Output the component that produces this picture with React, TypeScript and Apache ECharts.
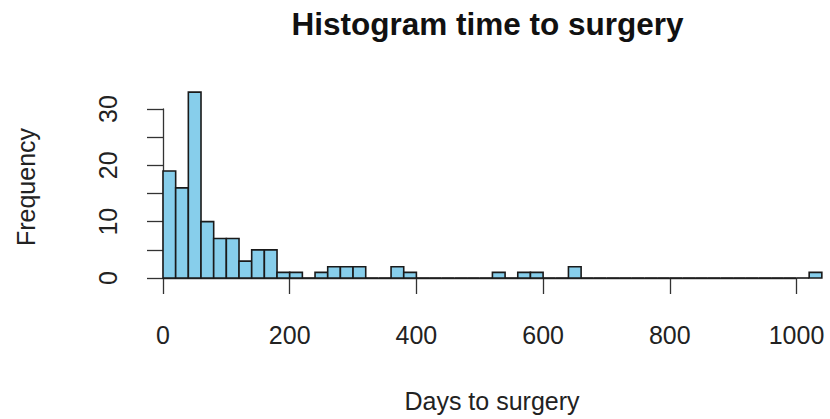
import React, { useEffect, useRef } from "react";
import * as echarts from "echarts";

const binWidth = 20;
const binStarts: number[] = [
  0, 20, 40, 60, 80, 100, 120, 140, 160, 180, 200, 220, 240, 260, 280, 300, 320, 340, 360, 380,
  400, 420, 440, 460, 480, 500, 520, 540, 560, 580, 600, 620, 640, 660, 680, 700, 720, 740, 760, 780,
  800, 820, 840, 860, 880, 900, 920, 940, 960, 980, 1000, 1020,
];
const counts: number[] = [
  19, 16, 33, 10, 7, 7, 3, 5, 5, 1, 1, 0, 1, 2, 2, 2, 0, 0, 2, 1,
  0, 0, 0, 0, 0, 0, 1, 0, 1, 1, 0, 0, 2, 0, 0, 0, 0, 0, 0, 0,
  0, 0, 0, 0, 0, 0, 0, 0, 0, 0, 0, 1,
];
const xTicks: number[] = [0, 200, 400, 600, 800, 1000];
const yTicks: number[] = [0, 5, 10, 15, 20, 25, 30];
const yLabeled: number[] = [0, 10, 20, 30];

const titleText = "Histogram time to surgery";
const xName = "Days to surgery";
const yName = "Frequency";

const FONT = "Liberation Sans, Arial, sans-serif";
const TEXT = "#222";
const AXIS = "#333";

export default function App() {
  const ref = useRef<HTMLDivElement>(null);
  useEffect(() => {
    if (!ref.current) return;
    const chart = echarts.init(ref.current, undefined, { renderer: "svg" });
    const data = binStarts.map((s, i) => [s, s + binWidth, counts[i]]);
    const xMinData = 0;
    const xMaxData = 1040;
    const px = 0.6335;
    const pyu = 5.633;
    const x0 = 163;
    const yBase = 278;
    chart.setOption({
      animation: false,
      backgroundColor: "#fff",
      grid: [
        {
          left: x0,
          top: yBase - 35 * pyu,
          width: (xMaxData - xMinData) * px,
          height: 35 * pyu,
          containLabel: false,
        },
        {
          left: x0,
          top: yBase - 30 * pyu,
          width: 1000 * px,
          height: 30 * pyu,
          containLabel: false,
        },
      ],
      xAxis: [
        { type: "value", gridIndex: 0, min: xMinData, max: xMaxData, show: false },
        {
          type: "value",
          gridIndex: 1,
          min: 0,
          max: 1000,
          interval: 200,
          offset: 7,
          axisLine: { show: true, lineStyle: { color: AXIS, width: 1.3 } },
          axisTick: { show: true, length: 16, lineStyle: { color: AXIS, width: 1.3 } },
          axisLabel: {
            show: true,
            margin: 37,
            fontSize: 25,
            fontFamily: FONT,
            color: TEXT,
            showMinLabel: true,
            showMaxLabel: true,
            formatter: (v: number) => (xTicks.includes(v) ? String(v) : ""),
          },
          splitLine: { show: false },
        },
      ],
      yAxis: [
        { type: "value", gridIndex: 0, min: 0, max: 35, show: false },
        {
          type: "value",
          gridIndex: 1,
          min: 0,
          max: 30,
          interval: 5,
          offset: 26.3,
          axisLine: { show: true, lineStyle: { color: AXIS, width: 1.3 } },
          axisTick: { show: true, length: 16, lineStyle: { color: AXIS, width: 1.3 } },
          axisLabel: {
            show: true,
            rotate: 90,
            margin: 16,
            fontSize: 25,
            fontFamily: FONT,
            color: TEXT,
            showMinLabel: true,
            showMaxLabel: true,
            formatter: (v: number) => (yTicks.includes(v) && yLabeled.includes(v) ? String(v) : ""),
          },
          splitLine: { show: false },
        },
      ],
      series: [
        {
          type: "custom",
          xAxisIndex: 0,
          yAxisIndex: 0,
          data,
          renderItem: (params: any, api: any) => {
            const s = api.value(0);
            const e = api.value(1);
            const c = api.value(2);
            const p1 = api.coord([s, c]);
            const p2 = api.coord([e, 0]);
            if (c === 0) {
              return {
                type: "line",
                shape: { x1: p1[0], y1: p2[1], x2: p2[0], y2: p2[1] },
                style: { stroke: "#1a1a1a", lineWidth: 1.6 },
              };
            }
            return {
              type: "rect",
              shape: { x: p1[0], y: p1[1], width: p2[0] - p1[0], height: p2[1] - p1[1] },
              style: { fill: "#87CEEB", stroke: "#1a1a1a", lineWidth: 1.6 },
            };
          },
        },
      ],
      graphic: [
        {
          type: "text",
          x: 487.5,
          y: 24,
          style: {
            text: titleText,
            fontSize: 31.5,
            fontWeight: "bold",
            fontFamily: FONT,
            fill: "#111",
            textAlign: "center",
            textVerticalAlign: "middle",
          },
        },
        {
          type: "text",
          x: 492,
          y: 401,
          style: {
            text: xName,
            fontSize: 25,
            fontFamily: FONT,
            fill: TEXT,
            textAlign: "center",
            textVerticalAlign: "middle",
          },
        },
        {
          type: "text",
          x: 26,
          y: 187,
          rotation: Math.PI / 2,
          style: {
            text: yName,
            fontSize: 25,
            fontFamily: FONT,
            fill: TEXT,
            textAlign: "center",
            textVerticalAlign: "middle",
          },
        },
      ],
    });
    return () => chart.dispose();
  }, []);
  return (
    <div
      ref={ref}
      style={{ position: "absolute", left: 0, top: 0, width: 830, height: 419 }}
    />
  );
}
